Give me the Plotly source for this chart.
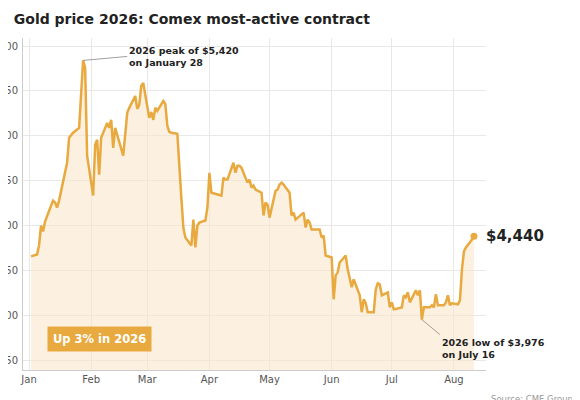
import plotly.graph_objects as go

# Comex most-active gold contract, settle prices ($/oz)
dates = [
    "2026-01-02", "2026-01-05", "2026-01-06", "2026-01-07", "2026-01-08", "2026-01-09",
    "2026-01-12", "2026-01-13", "2026-01-14", "2026-01-15", "2026-01-16",
    "2026-01-20", "2026-01-21", "2026-01-22", "2026-01-23",
    "2026-01-26", "2026-01-27", "2026-01-28", "2026-01-29", "2026-01-30",
    "2026-02-02", "2026-02-03", "2026-02-04", "2026-02-05", "2026-02-06",
    "2026-02-09", "2026-02-10", "2026-02-11", "2026-02-12", "2026-02-13",
    "2026-02-17", "2026-02-18", "2026-02-19", "2026-02-20",
    "2026-02-23", "2026-02-24", "2026-02-25", "2026-02-26", "2026-02-27",
    "2026-03-02", "2026-03-03", "2026-03-04", "2026-03-05", "2026-03-06",
    "2026-03-09", "2026-03-10", "2026-03-11", "2026-03-12", "2026-03-13",
    "2026-03-16", "2026-03-17", "2026-03-18", "2026-03-19", "2026-03-20",
    "2026-03-23", "2026-03-24", "2026-03-25", "2026-03-26", "2026-03-27",
    "2026-03-30", "2026-03-31", "2026-04-01", "2026-04-02",
    "2026-04-06", "2026-04-07", "2026-04-08", "2026-04-09", "2026-04-10",
    "2026-04-13", "2026-04-14", "2026-04-15", "2026-04-16", "2026-04-17",
    "2026-04-20", "2026-04-21", "2026-04-22", "2026-04-23", "2026-04-24",
    "2026-04-27", "2026-04-28", "2026-04-29", "2026-04-30", "2026-05-01",
    "2026-05-04", "2026-05-05", "2026-05-06", "2026-05-07", "2026-05-08",
    "2026-05-11", "2026-05-12", "2026-05-13", "2026-05-14", "2026-05-15",
    "2026-05-18", "2026-05-19", "2026-05-20", "2026-05-21", "2026-05-22",
    "2026-05-26", "2026-05-27", "2026-05-28", "2026-05-29",
    "2026-06-01", "2026-06-02", "2026-06-03", "2026-06-04", "2026-06-05",
    "2026-06-08", "2026-06-09", "2026-06-10", "2026-06-11", "2026-06-12",
    "2026-06-15", "2026-06-16", "2026-06-17", "2026-06-18", "2026-06-19",
    "2026-06-22", "2026-06-23", "2026-06-24", "2026-06-25", "2026-06-26",
    "2026-06-29", "2026-06-30", "2026-07-01", "2026-07-02",
    "2026-07-06", "2026-07-07", "2026-07-08", "2026-07-09", "2026-07-10",
    "2026-07-13", "2026-07-14", "2026-07-15", "2026-07-16", "2026-07-17",
    "2026-07-20", "2026-07-21", "2026-07-22", "2026-07-23", "2026-07-24",
    "2026-07-27", "2026-07-28", "2026-07-29", "2026-07-30", "2026-07-31",
    "2026-08-03", "2026-08-04", "2026-08-05", "2026-08-06", "2026-08-07",
    "2026-08-10", "2026-08-11",
]
prices = [
    4328, 4339, 4389, 4500, 4467, 4522,
    4611, 4639, 4628, 4600, 4639,
    4850, 4989, 5006, 5017,
    5044, 5267, 5420, 5378, 4889,
    4667, 4950, 4978, 4783, 4989,
    5072, 5044, 5089, 4933, 5044,
    4889, 5006, 5128, 5156,
    5222, 5150, 5172, 5278, 5294,
    5100, 5133, 5089, 5156, 5139,
    5194, 5178, 5056, 5022, 5017,
    5011, 4794, 4656, 4489, 4433,
    4389, 4533, 4378, 4500, 4517,
    4528, 4600, 4794, 4683,
    4667, 4667, 4767, 4756, 4756,
    4850, 4794, 4833, 4833, 4822,
    4739, 4756, 4711, 4722, 4700,
    4683, 4556, 4628, 4617, 4544,
    4694, 4700, 4728, 4739, 4728,
    4683, 4556, 4572, 4533, 4544,
    4572, 4489, 4533, 4517, 4478,
    4478, 4433, 4444, 4333,
    4322, 4089, 4222, 4239, 4294,
    4333, 4256, 4211, 4156, 4200,
    4111, 4017, 4089, 4067, 4017,
    4017, 4144, 4178, 4172, 4111,
    4128, 4044, 4072, 4033,
    4044, 4111, 4100, 4128, 4072,
    4139, 4111, 4139, 3976, 4044,
    4044, 4056, 4044, 4117, 4056,
    4056, 4072, 4111, 4056, 4067,
    4061, 4083, 4256, 4356, 4378,
    4422, 4440,
]
y_ticks = [3750, 4000, 4250, 4500, 4750, 5000, 5250, 5500]
y_tick_text = ["$3,750", "$4,000", "$4,250", "$4,500", "$4,750", "$5,000", "$5,250", "$5,500"]
x_ticks = ["2026-01-01", "2026-02-01", "2026-03-01", "2026-04-01",
           "2026-05-01", "2026-06-01", "2026-07-01", "2026-08-01"]
x_tick_text = ["Jan", "Feb", "Mar", "Apr", "May", "Jun", "Jul", "Aug"]

gold = "#e8a93f"
font = "DejaVu Sans"

fig = go.Figure()
fig.add_trace(go.Scatter(
    x=dates, y=prices, mode="lines",
    line=dict(color=gold, width=2.5),
    fill="tozeroy", fillcolor="rgba(250,230,200,0.55)",
    hoverinfo="x+y",
))
fig.add_trace(go.Scatter(
    x=[dates[-1]], y=[prices[-1]], mode="markers",
    marker=dict(color=gold, size=7), hoverinfo="skip",
))

fig.add_annotation(x="2026-01-28", y=5420, ax=44, ay=-4,
                   text="<b>2026 peak of $5,420<br>on January 28</b>", showarrow=True,
                   arrowhead=0, arrowwidth=0.8, arrowcolor="#888",
                   xanchor="left", yanchor="middle", align="left",
                   font=dict(size=9.5, color="#222", family=font))
fig.add_annotation(x="2026-07-16", y=3976, ax=18, ay=15,
                   text="<b>2026 low of $3,976<br>on July 16</b>", showarrow=True,
                   arrowhead=0, arrowwidth=0.8, arrowcolor="#888",
                   xanchor="left", yanchor="top", align="left",
                   font=dict(size=9.5, color="#222", family=font))
fig.add_annotation(x=dates[-1], y=prices[-1], text="<b>$4,440</b>", showarrow=False,
                   xanchor="left", xshift=10, font=dict(size=15, color="#222", family=font))
fig.add_annotation(x="2026-01-10", y=3870, text="<b>Up 3% in 2026</b>", showarrow=False,
                   xanchor="left", bgcolor=gold, borderpad=5,
                   font=dict(size=11.5, color="white", family=font))
fig.add_annotation(x=1.0, y=0, xref="paper", yref="paper", yshift=-22, xshift=3,
                   text="Source: CME Group, MINING.COM", showarrow=False,
                   xanchor="left", yanchor="top", font=dict(size=8.5, color="#999", family=font))

fig.update_layout(
    width=580, height=400,
    margin=dict(l=13, r=102, t=30, b=38),
    paper_bgcolor="white", plot_bgcolor="white",
    showlegend=False,
    font=dict(family=font, size=10, color="#555"),
    title=dict(text="<b>Gold price 2026: Comex most-active contract</b>",
               x=0.01, xanchor="left", y=0.985, yanchor="top",
               font=dict(size=14, color="#222", family=font)),
)
fig.update_xaxes(range=["2025-12-29", "2026-08-17"], tickvals=x_ticks, ticktext=x_tick_text,
                 showgrid=True, gridcolor="#e8e8e8", showline=True, linecolor="#ccc",
                 ticks="", tickfont=dict(size=10, color="#555"))
fig.update_yaxes(range=[3695, 5545], tickvals=y_ticks, ticktext=y_tick_text,
                 showgrid=True, gridcolor="#e8e8e8", showline=True, linecolor="#ccc",
                 zeroline=False, automargin=False, ticks="", ticklabelstandoff=2,
                 tickfont=dict(size=10, color="#555"))

fig.write_html("out.html")
